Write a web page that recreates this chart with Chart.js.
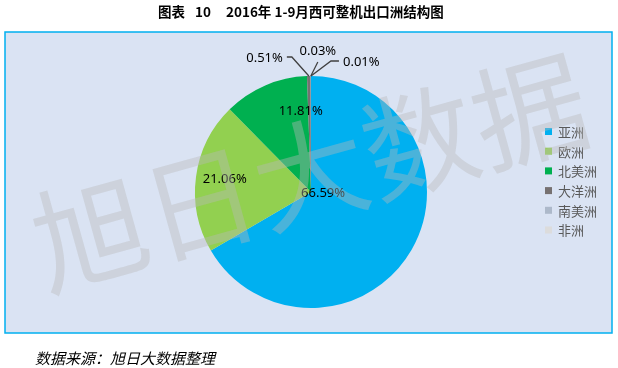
<!DOCTYPE html>
<html>
<head>
<meta charset="utf-8">
<script src="https://cdn.jsdelivr.net/npm/chart.js@4"></script>
<style>
  html, body { margin: 0; padding: 0; background: #fff; }
  #wrap { width: 618px; height: 368px; }
</style>
</head>
<body>
<div id="wrap"><canvas id="chart" width="618" height="368"></canvas></div>
<script>
// 数据
const categories = ['亚洲', '欧洲', '北美洲', '大洋洲', '南美洲', '非洲'];
const shares = [66.59, 21.06, 11.81, 0.51, 0.03, 0.01];
const sliceColors = ['#00B0F0', '#92D050', '#00B050', '#767171', '#ADB9CA', '#DCDCDC'];

// 标题分三段写，中间留宽空格
const titleParts = ['图表', '10', '2016年 1-9月西可整机出口洲结构图'];
const sourceText = '数据来源：旭日大数据整理';
const watermarkText = '旭日大数据';

// 标签摆放（样式，不是数据）
const labelPlace = [
  { inside: true, r: 0.1, dx: 2, dy: -4 },
  { inside: true, r: 0.75, dx: 0, dy: -1 },
  { inside: true, r: 0.75, dx: 24, dy: -1 },
  { inside: false, ex: -17, ey: -19, hx: -5, align: 'right', tx: -4, ty: 1 },
  { inside: false, ex: 7, ey: -14, hx: 0, align: 'center', tx: 0, ty: -11 },
  { inside: false, ex: 20, ey: -15, hx: 8, align: 'left', tx: 4, ty: 1 }
];

const FONT = '"Noto Sans", "Noto Sans CJK SC", sans-serif';
const CJK = '"Noto Sans CJK SC", sans-serif';

const decorPlugin = {
  id: 'decor',
  beforeDraw(chart) {
    const ctx = chart.ctx;
    ctx.save();
    ctx.fillStyle = '#fff';
    ctx.fillRect(0, 0, chart.width, chart.height);
    // 图框
    ctx.fillStyle = '#DAE3F3';
    ctx.fillRect(5, 32, 607, 301);
    ctx.strokeStyle = '#00B0F0';
    ctx.lineWidth = 1.5;
    ctx.strokeRect(5, 32, 607, 301);
    // 标题
    ctx.fillStyle = '#000';
    ctx.font = 'bold 13.5px ' + CJK;
    ctx.textAlign = 'left';
    ctx.textBaseline = 'middle';
    ctx.fillText(titleParts[0], 158, 12);
    ctx.fillText(titleParts[1], 195, 12);
    ctx.fillText(titleParts[2], 226, 12);
    // 来源
    ctx.font = 'italic 15px ' + CJK;
    ctx.fillText(sourceText, 35, 358);
    ctx.restore();
  },
  afterDatasetsDraw(chart) {
    const ctx = chart.ctx;
    const meta = chart.getDatasetMeta(0);
    ctx.save();
    ctx.font = '13px ' + FONT;
    ctx.fillStyle = '#000';
    ctx.textBaseline = 'middle';
    meta.data.forEach((arc, i) => {
      const p = arc.getProps(['x', 'y', 'startAngle', 'endAngle', 'outerRadius'], true);
      const mid = (p.startAngle + p.endAngle) / 2;
      const place = labelPlace[i];
      const text = shares[i].toFixed(2) + '%';
      if (place.inside) {
        const lx = p.x + Math.cos(mid) * p.outerRadius * place.r + place.dx;
        const ly = p.y + Math.sin(mid) * p.outerRadius * place.r + place.dy;
        ctx.textAlign = 'center';
        ctx.fillText(text, lx, ly);
      } else {
        const sx = p.x + Math.cos(mid) * p.outerRadius;
        const sy = p.y + Math.sin(mid) * p.outerRadius;
        const ex = sx + place.ex, ey = sy + place.ey;
        const hx = ex + place.hx;
        ctx.strokeStyle = '#404040';
        ctx.lineWidth = 1.3;
        ctx.beginPath();
        ctx.moveTo(sx, sy);
        ctx.lineTo(ex, ey);
        ctx.lineTo(hx, ey);
        ctx.stroke();
        ctx.textAlign = place.align;
        ctx.fillText(text, hx + place.tx, ey + place.ty);
      }
    });
    ctx.restore();
  },
  afterDraw(chart) {
    const ctx = chart.ctx;
    ctx.save();
    // 图例
    ctx.font = '13px ' + CJK;
    ctx.textBaseline = 'middle';
    ctx.textAlign = 'left';
    categories.forEach((name, i) => {
      const y = 132 + i * 19.7;
      ctx.fillStyle = sliceColors[i];
      ctx.fillRect(545, y - 4, 7, 7);
      ctx.fillStyle = '#595959';
      ctx.fillText(name, 558, y);
    });
    // 水印
    ctx.translate(310, 172);
    ctx.rotate(-15.5 * Math.PI / 180);
    ctx.font = '114px ' + CJK;
    ctx.textAlign = 'center';
    ctx.textBaseline = 'middle';
    ctx.fillStyle = 'rgba(185, 185, 185, 0.4)';
    ctx.fillText(watermarkText, 0, 0);
    ctx.restore();
  }
};

new Chart(document.getElementById('chart'), {
  type: 'pie',
  data: {
    labels: categories,
    datasets: [{
      data: shares,
      backgroundColor: sliceColors,
      borderWidth: 0
    }]
  },
  plugins: [decorPlugin],
  options: {
    responsive: false,
    animation: false,
    layout: { padding: { top: 76, bottom: 60, left: 195, right: 191 } },
    plugins: {
      legend: { display: false },
      tooltip: { enabled: false }
    }
  }
});
</script>
</body>
</html>
